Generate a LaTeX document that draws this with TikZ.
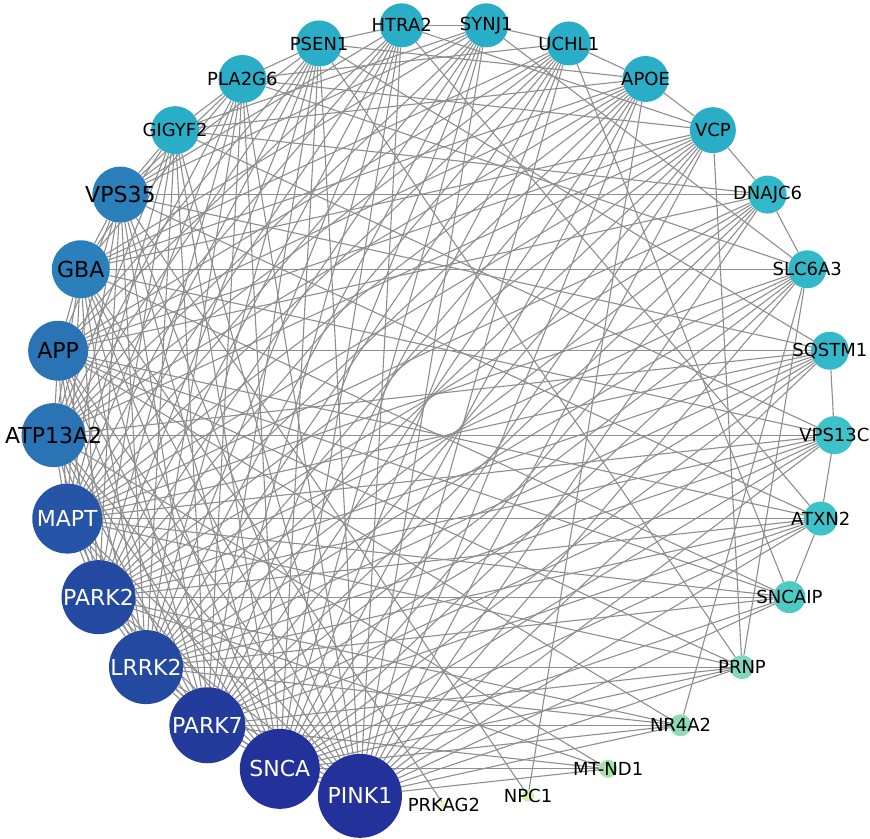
\documentclass[tikz,border=0pt]{standalone}
\usepackage{fontspec}
\setmainfont{DejaVu Sans}
\usetikzlibrary{backgrounds}

\definecolor{edgegray}{HTML}{8E8E8E}
\definecolor{navy}{HTML}{22329A}
\definecolor{navyB}{HTML}{233C9C}
\definecolor{royal}{HTML}{2449A1}
\definecolor{royalB}{HTML}{2654A6}
\definecolor{steel}{HTML}{2A74B6}
\definecolor{steelB}{HTML}{2B80BB}
\definecolor{cyanA}{HTML}{2AAEC8}
\definecolor{cyanB}{HTML}{33B8CA}
\definecolor{cyanC}{HTML}{3DC2C9}
\definecolor{tealA}{HTML}{4ECAC4}
\definecolor{mintA}{HTML}{80D7BE}
\definecolor{mintB}{HTML}{8FDBB4}
\definecolor{mintC}{HTML}{A8E3A6}
\definecolor{limeA}{HTML}{D3EFA6}
\definecolor{limeB}{HTML}{EEF6B4}

\begin{document}
\begin{tikzpicture}[x=1pt, y=1pt,
    gene/.style={circle, inner sep=0pt, minimum size=#1},
    biglbl/.style={font=\fontsize{22}{22}\selectfont},
    smalllbl/.style={font=\fontsize{18}{18}\selectfont},
    link/.style={draw=edgegray, line width=1.1pt}]
   \useasboundingbox (-444,-424) rectangle (426,414);

   % genes, clockwise from the top
   \node[gene=44, fill=cyanA, label={[smalllbl]center:SYNJ1}]  (SYNJ1)  at (83.793:391)   {};
   \node[gene=44, fill=cyanA, label={[smalllbl]center:UCHL1}]  (UCHL1)  at (71.379:391)   {};
   \node[gene=46, fill=cyanA, label={[smalllbl]center:APOE}]   (APOE)   at (58.966:391)   {};
   \node[gene=46, fill=cyanA, label={[smalllbl]center:VCP}]    (VCP)    at (46.552:391)   {};
   \node[gene=38, fill=cyanB, label={[smalllbl]center:DNAJC6}] (DNAJC6) at (34.138:391)   {};
   \node[gene=38, fill=cyanB, label={[smalllbl]center:SLC6A3}] (SLC6A3) at (21.724:391)   {};
   \node[gene=38, fill=cyanB, label={[smalllbl]center:SQSTM1}] (SQSTM1) at (9.310:391)    {};
   \node[gene=38, fill=cyanC, label={[smalllbl]center:VPS13C}] (VPS13C) at (-3.103:391)   {};
   \node[gene=34, fill=cyanC, label={[smalllbl]center:ATXN2}]  (ATXN2)  at (-15.517:391)  {};
   \node[gene=32, fill=tealA, label={[smalllbl]center:SNCAIP}] (SNCAIP) at (-27.931:391)  {};
   \node[gene=24, fill=mintA, label={[smalllbl]center:PRNP}]   (PRNP)   at (-40.345:391)  {};
   \node[gene=22, fill=mintB, label={[smalllbl]center:NR4A2}]  (NR4A2)  at (-52.759:391)  {};
   \node[gene=18, fill=mintC, label={[smalllbl]center:MT-ND1}] (MTND1)  at (-65.172:391)  {};
   \node[gene=12, fill=limeA, label={[smalllbl]center:NPC1}]   (NPC1)   at (-77.586:391)  {};
   \node[gene=8,  fill=limeB, label={[smalllbl]center:PRKAG2}] (PRKAG2) at (-90:391)      {};
   \node[gene=84, fill=navy,   label={[biglbl, text=white]center:PINK1}] (PINK1) at (-102.414:391) {};
   \node[gene=80, fill=navy,   label={[biglbl, text=white]center:SNCA}]  (SNCA)  at (-114.828:391) {};
   \node[gene=76, fill=navyB,  label={[biglbl, text=white]center:PARK7}] (PARK7) at (-127.241:391) {};
   \node[gene=74, fill=royal,  label={[biglbl, text=white]center:LRRK2}] (LRRK2) at (-139.655:391) {};
   \node[gene=74, fill=royal,  label={[biglbl, text=white]center:PARK2}] (PARK2) at (-152.069:391) {};
   \node[gene=70, fill=royalB, label={[biglbl, text=white]center:MAPT}]  (MAPT)  at (-164.483:391) {};
   \node[gene=64, fill=steel,  label={[biglbl]center:ATP13A2}] (ATP13A2) at (-176.897:391) {};
   \node[gene=60, fill=steel,  label={[biglbl]center:APP}]     (APP)     at (170.690:391)  {};
   \node[gene=58, fill=steelB, label={[biglbl]center:GBA}]     (GBA)     at (158.276:391)  {};
   \node[gene=56, fill=steelB, label={[biglbl]center:VPS35}]   (VPS35)   at (145.862:391)  {};
   \node[gene=48, fill=cyanA, label={[smalllbl]center:GIGYF2}] (GIGYF2) at (133.448:391)  {};
   \node[gene=48, fill=cyanA, label={[smalllbl]center:PLA2G6}] (PLA2G6) at (121.034:391)  {};
   \node[gene=46, fill=cyanA, label={[smalllbl]center:PSEN1}]  (PSEN1)  at (108.621:391)  {};
   \node[gene=44, fill=cyanA, label={[smalllbl]center:HTRA2}]  (HTRA2)  at (96.207:391)   {};

   \begin{scope}[on background layer]
   % hubs
   \foreach \b in {SNCA,PARK7,LRRK2,PARK2,MAPT,SYNJ1,UCHL1,APOE,VCP,DNAJC6,SLC6A3,SQSTM1,VPS13C,ATXN2,SNCAIP,PRNP,NR4A2,MTND1,ATP13A2,APP,GBA,VPS35,GIGYF2,PLA2G6,PSEN1,HTRA2}
     \draw[link] (PINK1) -- (\b);
   \foreach \b in {PARK7,LRRK2,PARK2,MAPT,SYNJ1,UCHL1,APOE,VCP,DNAJC6,SLC6A3,SQSTM1,VPS13C,ATXN2,SNCAIP,PRNP,NR4A2,MTND1,ATP13A2,APP,GBA,VPS35,GIGYF2,PLA2G6,PSEN1,HTRA2}
     \draw[link] (SNCA) -- (\b);
   \foreach \b in {LRRK2,PARK2,MAPT,SYNJ1,UCHL1,APOE,VCP,DNAJC6,SLC6A3,SQSTM1,VPS13C,ATXN2,PRNP,NR4A2,MTND1,ATP13A2,APP,GBA,VPS35,GIGYF2,PLA2G6,PSEN1,HTRA2}
     \draw[link] (PARK7) -- (\b);
   \foreach \b in {PARK2,MAPT,SYNJ1,UCHL1,APOE,VCP,DNAJC6,SLC6A3,SQSTM1,VPS13C,ATXN2,SNCAIP,PRNP,NR4A2,ATP13A2,APP,GBA,VPS35,GIGYF2,PLA2G6,PSEN1,HTRA2}
     \draw[link] (LRRK2) -- (\b);
   \foreach \b in {MAPT,SYNJ1,UCHL1,APOE,VCP,DNAJC6,SLC6A3,SQSTM1,VPS13C,ATXN2,SNCAIP,NR4A2,MTND1,ATP13A2,APP,GBA,VPS35,GIGYF2,PLA2G6,PSEN1,HTRA2}
     \draw[link] (PARK2) -- (\b);
   \foreach \b in {SYNJ1,UCHL1,APOE,VCP,DNAJC6,SLC6A3,SQSTM1,VPS13C,ATXN2,SNCAIP,PRNP,ATP13A2,APP,GBA,VPS35,GIGYF2,PLA2G6,PSEN1,HTRA2}
     \draw[link] (MAPT) -- (\b);
   % second ring
   \foreach \b in {APP,GBA,VPS35,VPS13C,GIGYF2,PLA2G6,PSEN1,HTRA2,SYNJ1,UCHL1,APOE,VCP,SQSTM1,MTND1}
     \draw[link] (ATP13A2) -- (\b);
   \foreach \b in {GBA,VPS35,SQSTM1,PSEN1,APOE,HTRA2,UCHL1,VCP,DNAJC6,SNCAIP,ATXN2,NR4A2,PRNP}
     \draw[link] (APP) -- (\b);
   \foreach \b in {VPS35,SLC6A3,GIGYF2,PLA2G6,SYNJ1,UCHL1,APOE,VCP,VPS13C,SNCAIP,PRKAG2}
     \draw[link] (GBA) -- (\b);
   \foreach \b in {DNAJC6,GIGYF2,PLA2G6,PSEN1,HTRA2,SYNJ1,SQSTM1,ATXN2,NPC1}
     \draw[link] (VPS35) -- (\b);
   % the rest
   \foreach \a/\b in {GIGYF2/PLA2G6,GIGYF2/SYNJ1,GIGYF2/APOE,GIGYF2/DNAJC6,GIGYF2/VPS13C,
       PLA2G6/PSEN1,PLA2G6/UCHL1,PLA2G6/VCP,PLA2G6/SLC6A3,PSEN1/HTRA2,PSEN1/APOE,
       PSEN1/SQSTM1,PSEN1/PRNP,HTRA2/SYNJ1,HTRA2/VCP,HTRA2/ATXN2,SYNJ1/UCHL1,
       SYNJ1/SLC6A3,UCHL1/APOE,UCHL1/SNCAIP,APOE/VCP,APOE/NPC1,VCP/DNAJC6,VCP/PRNP,
       DNAJC6/SLC6A3,SLC6A3/NR4A2,SLC6A3/PRNP,SQSTM1/VPS13C,VPS13C/ATXN2,ATXN2/SNCAIP}
     \draw[link] (\a) -- (\b);
   \end{scope}
 \end{tikzpicture}
\end{document}
